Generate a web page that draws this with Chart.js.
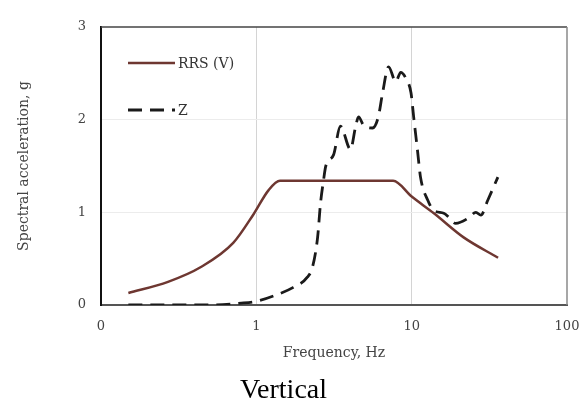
<!DOCTYPE html>
<html>
<head>
<meta charset="utf-8">
<script src="https://cdn.jsdelivr.net/npm/chart.js@4"></script>
<style>
  html, body { margin: 0; padding: 0; background: #fff; }
  #wrap { width: 587px; height: 402px; }
</style>
</head>
<body>
<div id="wrap"><canvas id="chart"></canvas></div>
<script>
// RRS (V) - required response spectrum
const rrsFreq = [0.15, 0.27, 0.44, 0.71, 0.96, 1.2, 1.42, 7.6, 10, 13.9, 21.6, 36];
const rrsAcc = [0.13, 0.25, 0.41, 0.67, 0.98, 1.24, 1.34, 1.34, 1.17, 0.99, 0.73, 0.51];

// Z - vertical test response spectrum
const zFreq = [0.15, 0.2, 0.3, 0.5, 0.8, 1.0, 1.3, 1.73, 2.13, 2.3, 2.48, 2.59, 2.71, 2.8, 3.14, 3.48,
  4.04, 4.35, 4.55, 4.9, 5.6, 6.1, 6.5, 7.1, 7.9, 8.5, 9.15, 9.9, 10.3, 10.9, 11.4, 12.7, 13.9,
  16.1, 17.3, 19.2, 23.3, 25.9, 27.9, 30.9, 35.9];
const zAcc = [0, 0, 0, 0, 0.02, 0.04, 0.1, 0.19, 0.3, 0.41, 0.73, 1.1, 1.35, 1.5, 1.62, 1.93,
  1.68, 1.92, 2.03, 1.94, 1.91, 2.03, 2.29, 2.57, 2.41, 2.51, 2.45, 2.29, 2.03, 1.67, 1.38, 1.13, 1.02,
  0.99, 0.95, 0.88, 0.94, 1.0, 0.97, 1.13, 1.38];

const xTickValues = [0.1, 1, 10, 100];
const xTickLabels = ['0', '1', '10', '100'];
const yTickValues = [0, 1, 2, 3];

const seriesNames = ['RRS (V)', 'Z'];

const toPoints = (xs, ys) => xs.map((x, i) => ({ x: x, y: ys[i] }));

const serif = "'DejaVu Serif', 'Liberation Serif', serif";

// legend drawn inside the plot, top left
const insideLegend = {
  id: 'insideLegend',
  afterDatasetsDraw: (chart) => {
    const ctx = chart.ctx;
    const area = chart.chartArea;
    const x0 = area.left + 27;
    const x1 = area.left + 74;
    const rows = [area.top + 36, area.top + 83];

    ctx.save();
    chart.data.datasets.forEach((ds, i) => {
      ctx.beginPath();
      ctx.strokeStyle = ds.borderColor;
      ctx.lineWidth = ds.borderWidth;
      ctx.setLineDash(ds.borderDash || []);
      ctx.moveTo(x0, rows[i]);
      ctx.lineTo(x1, rows[i]);
      ctx.stroke();
      ctx.setLineDash([]);
      ctx.fillStyle = '#333';
      ctx.font = "14px " + serif;
      ctx.textBaseline = 'middle';
      ctx.fillText(ds.label, x1 + 3, rows[i] + 1);
    });
    ctx.restore();
  }
};

// top and right frame lines
const frame = {
  id: 'frame',
  afterDraw: (chart) => {
    const ctx = chart.ctx;
    const a = chart.chartArea;
    ctx.save();
    ctx.lineWidth = 1.5;
    ctx.strokeStyle = '#444';
    ctx.beginPath();
    ctx.moveTo(a.left, a.top);
    ctx.lineTo(a.right, a.top);
    ctx.stroke();
    ctx.strokeStyle = '#8a8a8a';
    ctx.beginPath();
    ctx.moveTo(a.right, a.top);
    ctx.lineTo(a.right, a.bottom);
    ctx.stroke();
    ctx.restore();
  }
};

new Chart(document.getElementById('chart'), {
  type: 'line',
  data: {
    datasets: [{
      label: seriesNames[0],
      data: toPoints(rrsFreq, rrsAcc),
      borderColor: '#6e3731',
      borderWidth: 2.5,
      pointRadius: 0,
      cubicInterpolationMode: 'monotone',
      fill: false
    }, {
      label: seriesNames[1],
      data: toPoints(zFreq, zAcc),
      borderColor: '#1a1a1a',
      borderWidth: 2.8,
      borderDash: [14, 8],
      pointRadius: 0,
      cubicInterpolationMode: 'monotone',
      fill: false
    }]
  },
  options: {
    responsive: true,
    maintainAspectRatio: false,
    animation: false,
    layout: {
      padding: { top: 27, right: 20, bottom: 0, left: 0 }
    },
    plugins: {
      legend: { display: false },
      tooltip: { enabled: false },
      title: {
        display: true,
        position: 'bottom',
        text: 'Vertical',
        color: '#000',
        font: { family: "'Liberation Serif', serif", size: 28, weight: 'normal', lineHeight: 0.8 },
        padding: 0
      }
    },
    scales: {
      x: {
        type: 'logarithmic',
        min: 0.1,
        max: 100,
        afterBuildTicks: (scale) => {
          scale.ticks = xTickValues.map(v => ({ value: v }));
        },
        afterFit: (scale) => {
          scale.height = 74.6;
          scale.paddingRight = 0;
          scale.paddingLeft = 0;
        },
        ticks: {
          color: '#444',
          font: { family: serif, size: 13 },
          padding: 14,
          maxRotation: 0,
          autoSkip: false,
          callback: (value) => {
            const i = xTickValues.indexOf(value);
            return i >= 0 ? xTickLabels[i] : '';
          }
        },
        grid: {
          drawTicks: false,
          color: (c) => (c.tick && (c.tick.value === 1 || c.tick.value === 10)) ? '#d4d4d4' : 'rgba(0,0,0,0)',
          lineWidth: 1
        },
        border: { color: '#555', width: 2 },
        title: {
          display: true,
          text: 'Frequency, Hz',
          color: '#444',
          font: { family: serif, size: 14 },
          padding: { top: 0, bottom: 18 }
        }
      },
      y: {
        min: 0,
        max: 3,
        afterBuildTicks: (scale) => {
          scale.ticks = yTickValues.map(v => ({ value: v }));
        },
        afterFit: (scale) => {
          scale.width = 101;
          scale.paddingTop = 0;
          scale.paddingBottom = 0;
        },
        ticks: {
          color: '#444',
          font: { family: serif, size: 13 },
          padding: 15
        },
        grid: {
          drawTicks: false,
          color: (c) => (c.tick && (c.tick.value === 1 || c.tick.value === 2)) ? '#ececec' : 'rgba(0,0,0,0)',
          lineWidth: 1
        },
        border: { color: '#111', width: 2 },
        title: {
          display: true,
          text: 'Spectral acceleration, g',
          color: '#444',
          font: { family: serif, size: 14 },
          padding: { top: 16, bottom: 0 }
        }
      }
    }
  },
  plugins: [insideLegend, frame]
});
</script>
</body>
</html>
